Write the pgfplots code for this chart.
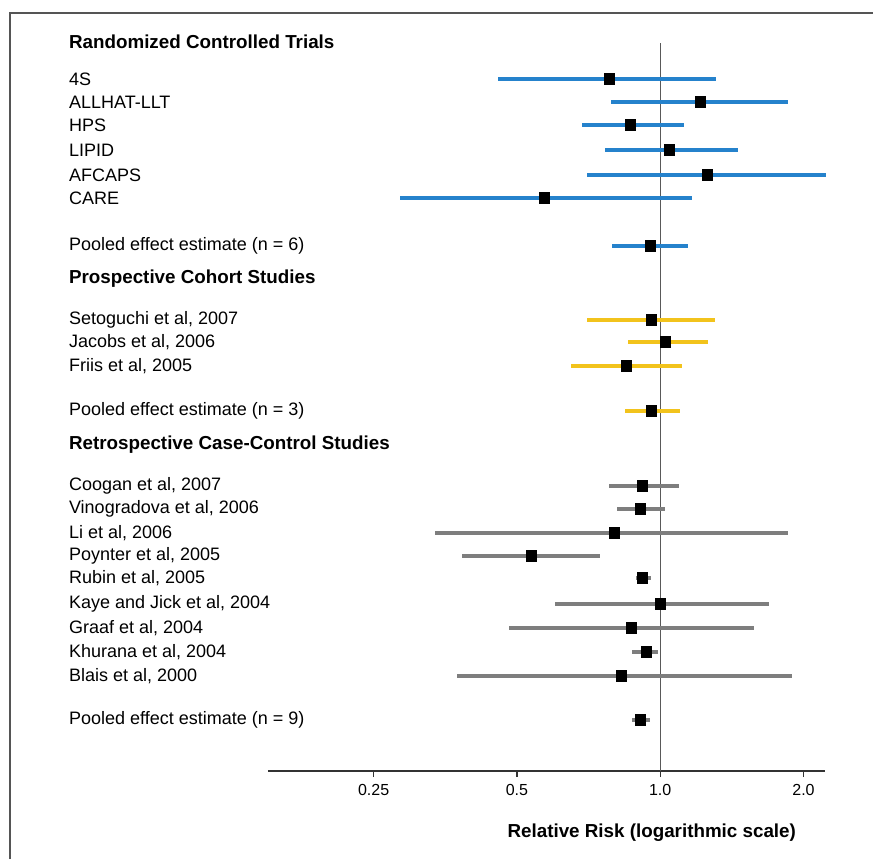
\documentclass[border=0pt]{standalone}
\usepackage{fontspec}
\setmainfont{Liberation Sans}
\usepackage{pgfplots}
\usepackage{pgfplotstable}
\pgfplotsset{compat=1.18}
\definecolor{rctblue}{HTML}{2582CC}
\definecolor{pcsyellow}{HTML}{F2C31C}
\definecolor{rccgray}{HTML}{7E7E7E}
\definecolor{framegray}{HTML}{555555}

% y = vertical row position, est = relative risk, lo/hi = 95% CI
\pgfplotstableread{
y est lo hi
-79 0.782 0.457 1.31
-102 1.213 0.789 1.856
-125 0.865 0.686 1.123
-150 1.044 0.767 1.458
-175 1.255 0.703 2.23
-198 0.571 0.284 1.167
-246 0.953 0.793 1.145
}\rct
\pgfplotstableread{
y est lo hi
-320 0.957 0.703 1.304
-342 1.024 0.857 1.261
-366 0.849 0.651 1.112
-411 0.957 0.845 1.101
}\pcs
\pgfplotstableread{
y est lo hi
-486 0.917 0.782 1.096
-509 0.908 0.812 1.024
-533 0.801 0.337 1.856
-556 0.536 0.384 0.748
-578 0.917 0.890 0.957
-604 1.000 0.602 1.693
-628 0.869 0.482 1.575
-652 0.935 0.873 0.990
-676 0.828 0.375 1.892
-720 0.908 0.873 0.953
}\rcc

\newcommand{\lab}{\fontsize{9}{11}\selectfont}
\newcommand{\hd}{\fontsize{9.4}{11}\selectfont\bfseries}

\begin{document}
\begin{tikzpicture}
\useasboundingbox (-134pt,-44pt) rectangle (302.5pt,385.5pt);
\begin{axis}[
  at={(0,0)}, anchor=south west,
  scale only axis,
  width=278.5pt, height=379pt,
  xmode=log, log basis x=2,
  xmin=0.150, xmax=2.219,
  ymin=-771, ymax=-13,
  axis x line=bottom,
  axis y line=none,
  axis line style={line width=1pt, color=black!80, -},
  xtick={0.25,0.5,1,2},
  xticklabels={0.25,0.5,1.0,2.0},
  xtick align=outside,
  major tick length=3pt,
  xtick style={line width=0.6pt, color=black!80},
  xticklabel style={font=\fontsize{8}{9}\selectfont},
  xlabel={Relative Risk (logarithmic scale)},
  xlabel style={at={(rel axis cs:0.689,0)}, anchor=center, yshift=-31pt, font=\hd},
  clip=false,
]
\addplot[color=black!65, line width=0.6pt] coordinates {(1,-43) (1,-771)};

\addplot[only marks, mark=square*, mark size=2.6pt, mark options={fill=black, draw=black},
  error bars/.cd, x dir=both, x explicit, error mark=none,
  error bar style={line width=1.6pt, color=rctblue}]
  table[x=est, y=y, x error plus expr=\thisrow{hi}-\thisrow{est}, x error minus expr=\thisrow{est}-\thisrow{lo}] {\rct};
\addplot[only marks, mark=square*, mark size=2.6pt, mark options={fill=black, draw=black},
  error bars/.cd, x dir=both, x explicit, error mark=none,
  error bar style={line width=1.6pt, color=pcsyellow}]
  table[x=est, y=y, x error plus expr=\thisrow{hi}-\thisrow{est}, x error minus expr=\thisrow{est}-\thisrow{lo}] {\pcs};
\addplot[only marks, mark=square*, mark size=2.6pt, mark options={fill=black, draw=black},
  error bars/.cd, x dir=both, x explicit, error mark=none,
  error bar style={line width=1.6pt, color=rccgray}]
  table[x=est, y=y, x error plus expr=\thisrow{hi}-\thisrow{est}, x error minus expr=\thisrow{est}-\thisrow{lo}] {\rcc};

\def\lx{0.0572}
\node[anchor=west, inner sep=0pt, font=\hd] at (axis cs:\lx,-42) {Randomized Controlled Trials};
\node[anchor=west, inner sep=0pt, font=\lab] at (axis cs:\lx,-79) {4S};
\node[anchor=west, inner sep=0pt, font=\lab] at (axis cs:\lx,-102) {ALLHAT-LLT};
\node[anchor=west, inner sep=0pt, font=\lab] at (axis cs:\lx,-125) {HPS};
\node[anchor=west, inner sep=0pt, font=\lab] at (axis cs:\lx,-150) {LIPID};
\node[anchor=west, inner sep=0pt, font=\lab] at (axis cs:\lx,-175) {AFCAPS};
\node[anchor=west, inner sep=0pt, font=\lab] at (axis cs:\lx,-198) {CARE};
\node[anchor=west, inner sep=0pt, font=\lab] at (axis cs:\lx,-246) {Pooled effect estimate (n = 6)};
\node[anchor=west, inner sep=0pt, font=\hd] at (axis cs:\lx,-279) {Prospective Cohort Studies};
\node[anchor=west, inner sep=0pt, font=\lab] at (axis cs:\lx,-320) {Setoguchi et al, 2007};
\node[anchor=west, inner sep=0pt, font=\lab] at (axis cs:\lx,-342) {Jacobs et al, 2006};
\node[anchor=west, inner sep=0pt, font=\lab] at (axis cs:\lx,-366) {Friis et al, 2005};
\node[anchor=west, inner sep=0pt, font=\lab] at (axis cs:\lx,-411) {Pooled effect estimate (n = 3)};
\node[anchor=west, inner sep=0pt, font=\hd] at (axis cs:\lx,-445) {Retrospective Case-Control Studies};
\node[anchor=west, inner sep=0pt, font=\lab] at (axis cs:\lx,-486) {Coogan et al, 2007};
\node[anchor=west, inner sep=0pt, font=\lab] at (axis cs:\lx,-509) {Vinogradova et al, 2006};
\node[anchor=west, inner sep=0pt, font=\lab] at (axis cs:\lx,-533) {Li et al, 2006};
\node[anchor=west, inner sep=0pt, font=\lab] at (axis cs:\lx,-556) {Poynter et al, 2005};
\node[anchor=west, inner sep=0pt, font=\lab] at (axis cs:\lx,-578) {Rubin et al, 2005};
\node[anchor=west, inner sep=0pt, font=\lab] at (axis cs:\lx,-604) {Kaye and Jick et al, 2004};
\node[anchor=west, inner sep=0pt, font=\lab] at (axis cs:\lx,-628) {Graaf et al, 2004};
\node[anchor=west, inner sep=0pt, font=\lab] at (axis cs:\lx,-652) {Khurana et al, 2004};
\node[anchor=west, inner sep=0pt, font=\lab] at (axis cs:\lx,-676) {Blais et al, 2000};
\node[anchor=west, inner sep=0pt, font=\lab] at (axis cs:\lx,-720) {Pooled effect estimate (n = 9)};
\end{axis}
\draw[color=framegray, line width=0.6pt] (-129pt,-44pt) -- (-129pt,379pt) -- (302.5pt,379pt);
\end{tikzpicture}
\end{document}
